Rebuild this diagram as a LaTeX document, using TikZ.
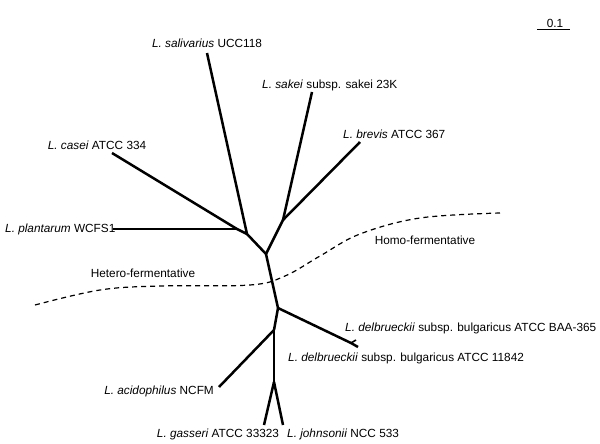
\documentclass[tikz,border=0pt]{standalone}
\usepackage{fontspec}
\setmainfont{Liberation Sans}
\begin{document}
\begin{tikzpicture}[x=1pt,y=-1pt,
  branch/.style={line width=2.5pt,line cap=butt,line join=miter},
  lbl/.style={inner sep=0pt,font=\fontsize{11.8}{13}\selectfont},
  grp/.style={line width=1.2pt,dash pattern=on 5pt off 4pt}]
\useasboundingbox (0,0) rectangle (600,444);
% coordinates of tips and junctions
\coordinate (tSal) at (207,53);
\coordinate (tSak) at (312,92);
\coordinate (tBre) at (360,142);
\coordinate (tCas) at (112,153);
\coordinate (tPla) at (113,229);
\coordinate (jCP) at (237,229);
\coordinate (jCS) at (247,234);
\coordinate (jSB) at (283,220);
\coordinate (jUp) at (266,254);
\coordinate (jLo) at (278,308);
\coordinate (jDe) at (351,343);
\coordinate (tDe1) at (358,347);
\coordinate (tDe2) at (356,340);
\coordinate (jAc) at (274,330);
\coordinate (tAc) at (219,387);
\coordinate (jGJ) at (274,382);
\coordinate (tGa) at (264,425);
\coordinate (tJo) at (283,425);
% branches
\draw[branch] (tPla) -- (jCP);
\draw[branch] (tCas) -- (jCP) -- (jCS);
\draw[branch] (tSal) -- (jCS) -- (jUp);
\draw[branch] (tSak) -- (jSB);
\draw[branch] (tBre) -- (jSB) -- (jUp);
\draw[branch] (jUp) -- (jLo);
\draw[branch] (jLo) -- (jDe) -- (tDe1);
\draw[branch,line width=1.6pt] (jDe) -- (tDe2);
\draw[branch] (jLo) -- (jAc);
\draw[branch] (jAc) -- (tAc);
\draw[branch] (jAc) -- (jGJ);
\draw[branch] (jGJ) -- (tGa);
\draw[branch] (jGJ) -- (tJo);
% labels
\node[lbl] (nSal) at (207,43) {\textit{L. salivarius} UCC118};
\node[lbl,anchor=west] (nSak) at (262,85) {\textit{L. sakei} subsp. sakei 23K};
\node[lbl,anchor=west] (nBre) at (343,134) {\textit{L. brevis} ATCC 367};
\node[lbl] (nCas) at (97,145) {\textit{L. casei} ATCC 334};
\node[lbl,anchor=west] (nPla) at (5,229) {\textit{L. plantarum} WCFS1};
\node[lbl] (nHomo) at (425,240) {Homo-fermentative};
\node[lbl] (nHetero) at (143,273) {Hetero-fermentative};
\node[lbl,anchor=west] (nDe1) at (345,328) {\textit{L. delbrueckii} subsp. bulgaricus ATCC BAA-365};
\node[lbl,anchor=west] (nDe2) at (288,358) {\textit{L. delbrueckii} subsp. bulgaricus ATCC 11842};
\node[lbl,anchor=east] (nAc) at (214,391) {\textit{L. acidophilus} NCFM};
\node[lbl] (nGa) at (218,434) {\textit{L. gasseri} ATCC 33323};
\node[lbl,anchor=west] (nJo) at (287,434) {\textit{L. johnsonii} NCC 533};
% separation curve
\draw[grp] plot[smooth,tension=0.6] coordinates {(35,305) (100,290) (160,286) (250,285) (285,276) (320,256) (360,234) (420,218) (500,213)};
% scale bar
\coordinate (sA) at (537,30);
\coordinate (sB) at (570,30);
\draw[line width=1pt] (sA) -- (sB);
\node[lbl] (nScale) at (555,23) {0.1};
\end{tikzpicture}
\end{document}
